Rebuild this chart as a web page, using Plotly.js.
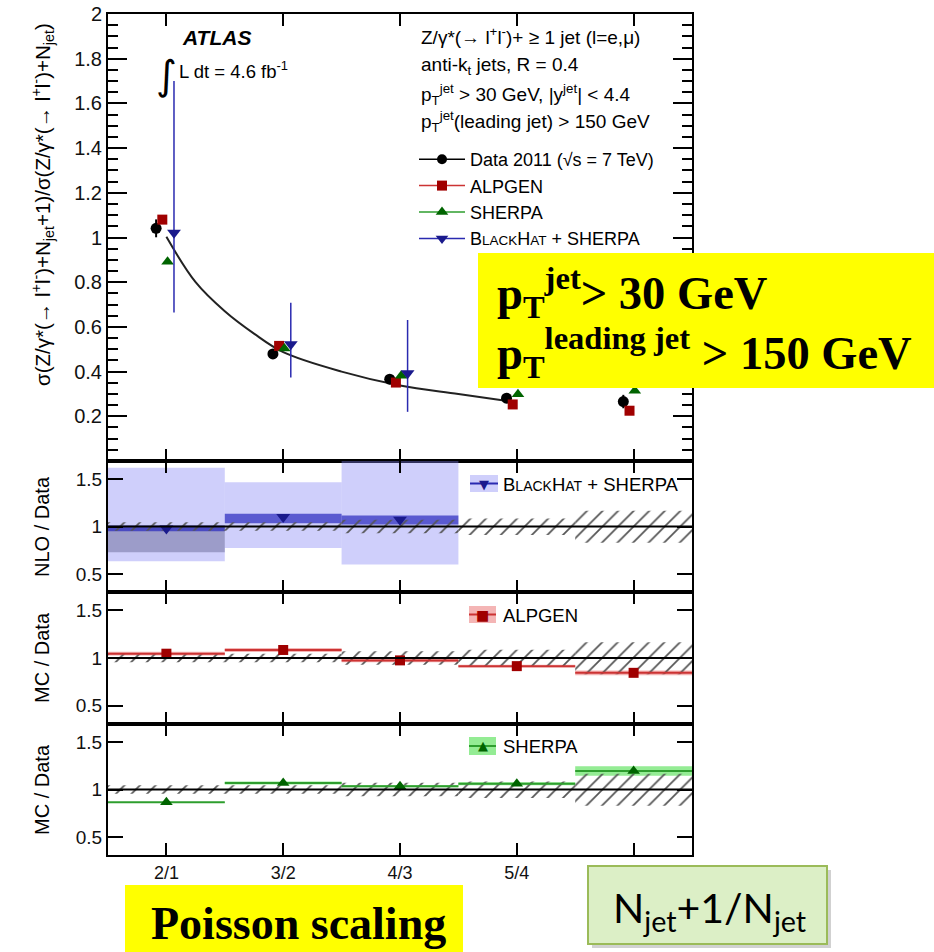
<!DOCTYPE html>
<html><head><meta charset="utf-8">
<script src="https://cdn.plot.ly/plotly-3.0.1.min.js"></script>
<style>html,body{margin:0;padding:0;background:#fff}#chart{width:934px;height:952px}</style>
</head><body><div id="chart"></div>
<script>
// ================= DATA =================
const categories = ['2/1', '3/2', '4/3', '5/4', '6/5'];
const catIndex = [1, 2, 3, 4, 5];

// top panel: sigma(N+1)/sigma(N)
const dataRatio      = [1.041, 0.479, 0.366, 0.281, 0.266];
const dataRatioErr   = [0.040, 0.020, 0.020, 0.020, 0.030];
const alpgenRatio    = [1.080, 0.515, 0.351, 0.253, 0.225];
const sherpaRatio    = [0.891, 0.503, 0.381, 0.299, 0.314];
const blackhatRatio  = [1.021, 0.522, 0.393];
const blackhatRatioLo = [0.664, 0.374, 0.220];
const blackhatRatioHi = [1.700, 0.708, 0.631];

// fitted curve
const fitX = [1.00, 1.25, 1.50, 1.75, 2.00, 2.50, 3.00, 3.50, 3.92];
const fitY = [1.003, 0.800, 0.670, 0.570, 0.487, 0.400, 0.338, 0.300, 0.268];

// data uncertainty band in the ratio panels (relative, around 1)
const dataUncUp   = [0.045, 0.045, 0.070, 0.085, 0.165];
const dataUncDown = [0.045, 0.045, 0.070, 0.090, 0.170];

// BlackHat+SHERPA / Data
const bhOverData = [0.98, 1.10, 1.07];
const bhTotLo  = [0.633, 0.773, 0.600];
const bhTotHi  = [1.620, 1.465, 1.700];
const bhStatLo = [0.950, 1.035, 1.020];
const bhStatHi = [1.010, 1.133, 1.115];
const bhExtraLo = [0.73];
const bhExtraHi = [0.99];

// ALPGEN / Data
const alpgenOverData = [1.045, 1.084, 0.975, 0.915, 0.845];
const alpgenBand     = [0.020, 0.020, 0.020, 0.015, 0.025];

// SHERPA / Data
const sherpaOverData = [0.865, 1.068, 1.035, 1.060, 1.195];
const sherpaBand     = [0.004, 0.016, 0.012, 0.016, 0.050];

// tick labels
const topTickVals = [0.2, 0.4, 0.6, 0.8, 1.0, 1.2, 1.4, 1.6, 1.8, 2.0];
const topTickText = ['0.2', '0.4', '0.6', '0.8', '1', '1.2', '1.4', '1.6', '1.8', '2'];
const ratioTickVals = [0.5, 1, 1.5];
const ratioTickText = ['0.5', '1', '1.5'];

// ================= STYLE / LAYOUT =================
const PL = 108, PR = 692, PT = 14, PB = 855;
const W = PR - PL, H = PB - PT;
const X = px => (px - PL) / W;
const Y = py => (PB - py) / H;
const FONT = 'Liberation Sans, Arial, Helvetica, sans-serif';
const SERIF = 'Liberation Serif, Times New Roman, serif';
const OFF = {data: -0.088, alpgen: -0.035, sherpa: 0.01, blackhat: 0.065};
const C = {
  data: '#000000', alpgen: '#a00000', alpgenLine: '#cc3333', alpgenBand: 'rgba(225,60,60,0.38)',
  sherpa: '#006400', sherpaLine: '#2e9e2e', sherpaBand: 'rgba(60,220,60,0.55)',
  bh: '#1a1a8c', bhLine: '#2a2ab0', bhTot: 'rgba(130,130,245,0.38)', bhStat: 'rgba(40,40,190,0.7)',
  bhExtra: 'rgba(60,60,110,0.35)'
};

const shift = (arr, o) => arr.map(v => v + o);
const diff = (hi, lo) => hi.map((h, i) => h - lo[i]);
const hatchTrace = (xa, ya) => ({
  type: 'bar', x: catIndex, base: dataUncDown.map(d => 1 - d),
  y: dataUncUp.map((u, i) => u + dataUncDown[i]), width: 1,
  xaxis: xa, yaxis: ya, showlegend: false, hoverinfo: 'skip',
  marker: {color: 'rgba(0,0,0,0)', line: {width: 0},
           pattern: {shape: '/', size: 11, solidity: 0.16, fgcolor: '#555', bgcolor: 'rgba(0,0,0,0)'}}
});

const traces = [
  // ---- top panel ----
  {type: 'scatter', mode: 'lines', x: fitX, y: fitY, line: {color: '#222', width: 2, shape: 'spline'},
   xaxis: 'x', yaxis: 'y', showlegend: false, hoverinfo: 'skip'},
  {type: 'scatter', mode: 'markers', x: shift(catIndex, OFF.data), y: dataRatio,
   error_y: {type: 'data', array: dataRatioErr, color: C.data, thickness: 2, width: 0},
   marker: {symbol: 'circle', size: 11, color: C.data}, xaxis: 'x', yaxis: 'y', showlegend: false},
  {type: 'scatter', mode: 'markers', x: shift(catIndex, OFF.alpgen), y: alpgenRatio,
   marker: {symbol: 'square', size: 10, color: C.alpgen}, xaxis: 'x', yaxis: 'y', showlegend: false},
  {type: 'scatter', mode: 'markers', x: shift(catIndex, OFF.sherpa), y: sherpaRatio,
   marker: {symbol: 'triangle-up', size: 11, color: C.sherpa}, xaxis: 'x', yaxis: 'y', showlegend: false},
  {type: 'scatter', mode: 'markers', x: shift(catIndex.slice(0, 3), OFF.blackhat), y: blackhatRatio,
   error_y: {type: 'data', symmetric: false,
             array: blackhatRatioHi.map((h, i) => h - blackhatRatio[i]),
             arrayminus: blackhatRatio.map((v, i) => v - blackhatRatioLo[i]),
             color: C.bhLine, thickness: 1.5, width: 0},
   marker: {symbol: 'triangle-down', size: 12, color: C.bh}, xaxis: 'x', yaxis: 'y', showlegend: false},

  // legend entries (top panel)
  {type: 'scatter', mode: 'lines+markers', x: [null], y: [null], name: 'Data 2011 (√s = 7 TeV)',
   line: {color: '#000', width: 1.5}, marker: {symbol: 'circle', size: 10, color: C.data}, xaxis: 'x', yaxis: 'y'},
  {type: 'scatter', mode: 'lines+markers', x: [null], y: [null], name: 'ALPGEN',
   line: {color: C.alpgenLine, width: 1.5}, marker: {symbol: 'square', size: 10, color: C.alpgen}, xaxis: 'x', yaxis: 'y'},
  {type: 'scatter', mode: 'lines+markers', x: [null], y: [null], name: 'SHERPA',
   line: {color: C.sherpaLine, width: 1.5}, marker: {symbol: 'triangle-up', size: 11, color: C.sherpa}, xaxis: 'x', yaxis: 'y'},
  {type: 'scatter', mode: 'lines+markers', x: [null], y: [null],
   name: 'B<span style="font-size:13.5px">LACK</span>H<span style="font-size:13.5px">AT</span> + SHERPA',
   line: {color: C.bhLine, width: 1.5}, marker: {symbol: 'triangle-down', size: 11, color: C.bh}, xaxis: 'x', yaxis: 'y'},

  // ---- panel 2: NLO / Data ----
  {type: 'bar', x: catIndex.slice(0, 3), base: bhTotLo, y: diff(bhTotHi, bhTotLo), width: 1,
   marker: {color: C.bhTot, line: {width: 0}}, xaxis: 'x2', yaxis: 'y2', showlegend: false, hoverinfo: 'skip'},
  {type: 'bar', x: catIndex.slice(0, 1), base: bhExtraLo, y: diff(bhExtraHi, bhExtraLo), width: 1,
   marker: {color: C.bhExtra, line: {width: 0}}, xaxis: 'x2', yaxis: 'y2', showlegend: false, hoverinfo: 'skip'},
  {type: 'bar', x: catIndex.slice(0, 3), base: bhStatLo, y: diff(bhStatHi, bhStatLo), width: 1,
   marker: {color: C.bhStat, line: {width: 0}}, xaxis: 'x2', yaxis: 'y2', showlegend: false, hoverinfo: 'skip'},
  hatchTrace('x2', 'y2'),
  {type: 'scatter', mode: 'markers', x: catIndex.slice(0, 3), y: bhOverData,
   marker: {symbol: 'triangle-down', size: 12, color: C.bh}, xaxis: 'x2', yaxis: 'y2', showlegend: false},

  // ---- panel 3: ALPGEN / Data ----
  {type: 'bar', x: catIndex, base: alpgenOverData.map((v, i) => v - alpgenBand[i]),
   y: alpgenBand.map(b => 2 * b), width: 1,
   marker: {color: C.alpgenBand, line: {width: 0}}, xaxis: 'x3', yaxis: 'y3', showlegend: false, hoverinfo: 'skip'},
  hatchTrace('x3', 'y3'),
  {type: 'scatter', mode: 'markers', x: catIndex, y: alpgenOverData,
   error_x: {type: 'constant', value: 0.5, color: C.alpgenLine, thickness: 2, width: 0},
   marker: {symbol: 'square', size: 10, color: C.alpgen}, xaxis: 'x3', yaxis: 'y3', showlegend: false},

  // ---- panel 4: SHERPA / Data ----
  {type: 'bar', x: catIndex, base: sherpaOverData.map((v, i) => v - sherpaBand[i]),
   y: sherpaBand.map(b => 2 * b), width: 1,
   marker: {color: C.sherpaBand, line: {width: 0}}, xaxis: 'x4', yaxis: 'y4', showlegend: false, hoverinfo: 'skip'},
  hatchTrace('x4', 'y4'),
  {type: 'scatter', mode: 'markers', x: catIndex, y: sherpaOverData,
   error_x: {type: 'constant', value: 0.5, color: C.sherpaLine, thickness: 2, width: 0},
   marker: {symbol: 'triangle-up', size: 11, color: C.sherpa}, xaxis: 'x4', yaxis: 'y4', showlegend: false}
];

const xBase = (anchor, labels) => ({
  anchor: anchor, range: [0.5, 5.5], tickmode: 'array', tickvals: catIndex, ticktext: categories,
  ticks: 'inside', ticklen: 12, tickwidth: 2, tickcolor: '#000',
  showline: true, linewidth: 2, linecolor: '#000', mirror: 'ticks',
  showgrid: false, zeroline: false, showticklabels: labels,
  tickfont: {family: FONT, size: 18, color: '#111'}, fixedrange: true
});
const yRatio = (domain, anchor) => ({
  anchor: anchor, domain: domain, range: [0.31, 1.69], tickmode: 'array',
  tickvals: ratioTickVals, ticktext: ratioTickText,
  ticks: 'inside', ticklen: 15, tickwidth: 2, tickcolor: '#000',
  showline: true, linewidth: 2, linecolor: '#000', mirror: 'ticks',
  showgrid: false, zeroline: false, tickfont: {family: FONT, size: 19, color: '#111'}, fixedrange: true
});
const unityLine = (xa, ya) => ({type: 'line', xref: xa + ' domain', yref: ya, x0: 0, x1: 1, y0: 1, y1: 1,
  line: {color: '#000', width: 2}, layer: 'above'});
const rectPx = (x0, y0, x1, y1, fill, line) => ({type: 'rect', xref: 'paper', yref: 'paper',
  x0: X(x0), x1: X(x1), y0: Y(y0), y1: Y(y1), fillcolor: fill,
  line: line || {width: 0}, layer: 'above'});
const linePx = (x0, y0, x1, y1, color, w) => ({type: 'line', xref: 'paper', yref: 'paper',
  x0: X(x0), x1: X(x1), y0: Y(y0), y1: Y(y1), line: {color: color, width: w}, layer: 'above'});
const ann = (text, px, py, size, opts) => Object.assign({
  text: text, xref: 'paper', yref: 'paper', x: X(px), y: Y(py), showarrow: false,
  xanchor: 'left', yanchor: 'middle', font: {family: FONT, size: size, color: '#000'}
}, opts || {});

const layout = {
  width: 934, height: 952,
  margin: {l: PL, r: 934 - PR, t: PT, b: 952 - PB, pad: 0},
  paper_bgcolor: '#fff', plot_bgcolor: '#fff',
  font: {family: FONT, color: '#000'},
  barmode: 'overlay',
  xaxis: xBase('y', false), xaxis2: xBase('y2', false), xaxis3: xBase('y3', false), xaxis4: xBase('y4', true),
  yaxis: {
    anchor: 'x', domain: [Y(461), 1], range: [0, 2], tickmode: 'array', tickvals: topTickVals, ticktext: topTickText,
    ticks: 'inside', ticklen: 19, tickwidth: 2, tickcolor: '#000',
    minor: {tickmode: 'linear', tick0: 0, dtick: 0.05, ticks: 'inside', ticklen: 10, tickwidth: 2, tickcolor: '#000', showgrid: false},
    showline: true, linewidth: 2, linecolor: '#000', mirror: 'ticks',
    showgrid: false, zeroline: false, tickfont: {family: FONT, size: 20, color: '#111'}, fixedrange: true
  },
  yaxis2: yRatio([Y(592), Y(461)], 'x2'),
  yaxis3: yRatio([Y(724), Y(592)], 'x3'),
  yaxis4: yRatio([0, Y(724)], 'x4'),
  showlegend: true,
  legend: {x: X(414), y: Y(141), xanchor: 'left', yanchor: 'top', bgcolor: 'rgba(0,0,0,0)',
           font: {family: FONT, size: 18, color: '#000'}, traceorder: 'normal', itemwidth: 46},
  shapes: [
    unityLine('x2', 'y2'), unityLine('x3', 'y3'), unityLine('x4', 'y4'),
    // mini legends in ratio panels
    rectPx(470, 475, 498, 492, C.bhTot), linePx(470, 483.5, 498, 483.5, C.bhLine, 2),
    rectPx(469, 606, 496, 623, C.alpgenBand), linePx(469, 614.5, 496, 614.5, C.alpgenLine, 2),
    rectPx(469, 737, 496, 755, C.sherpaBand), linePx(469, 746, 496, 746, C.sherpaLine, 2),
    // yellow boxes
    rectPx(478, 253, 934, 388, '#ffff00'),
    rectPx(125, 885, 463, 952, '#ffff00'),
    // green box with shadow
    rectPx(592, 870, 831, 948, 'rgba(0,0,0,0.18)'),
    rectPx(588, 866, 827, 944, '#dcefc6', {color: '#9bbb59', width: 2})
  ],
  annotations: [
    // y-axis titles
    ann('σ(Z/γ*(→ l<sup>+</sup>l<sup>-</sup>)+N<sub>jet</sub>+1)/σ(Z/γ*(→ l<sup>+</sup>l<sup>-</sup>)+N<sub>jet</sub>)', 42, 205, 20.5,
        {xanchor: 'center', textangle: -90}),
    ann('NLO / Data', 42, 527, 20, {xanchor: 'center', textangle: -90}),
    ann('MC / Data', 42, 658, 20, {xanchor: 'center', textangle: -90}),
    ann('MC / Data', 42, 790, 20, {xanchor: 'center', textangle: -90}),
    // ATLAS label
    ann('<b><i>ATLAS</i></b>', 180, 37, 21),
    ann('∫', 166, 75, 40, {xanchor: 'center', font: {family: 'DejaVu Sans, sans-serif', size: 40, color: '#000'}}),
    ann('L dt = 4.6 fb<sup>-1</sup>', 177, 70, 18.5),
    // selection text
    ann('Z/γ*(→ l<sup>+</sup>l<sup>-</sup>)+ ≥ 1 jet (l=e,μ)', 419, 36, 19),
    ann('anti-k<sub>t</sub> jets, R = 0.4', 419, 66, 19),
    ann('p<sub>T</sub><sup>jet</sup> > 30 GeV, |y<sup>jet</sup>| < 4.4', 419, 94, 19),
    ann('p<sub>T</sub><sup>jet</sup>(leading jet) > 150 GeV', 419, 122, 19),
    // mini legends
    ann('▼', 484, 484, 13, {xanchor: 'center', font: {family: 'DejaVu Sans, sans-serif', size: 13, color: C.bh}}),
    ann('B<span style="font-size:14px">LACK</span>H<span style="font-size:14px">AT</span> + SHERPA', 501, 484, 18.5),
    ann('■', 482.5, 614.5, 14, {xanchor: 'center', font: {family: 'DejaVu Sans, sans-serif', size: 14, color: C.alpgen}}),
    ann('ALPGEN', 501, 615, 18.5),
    ann('▲', 482.5, 745, 13, {xanchor: 'center', font: {family: 'DejaVu Sans, sans-serif', size: 13, color: C.sherpa}}),
    ann('SHERPA', 501, 746, 18.5),
    // overlay boxes text
    ann('<b>p<sub>T</sub><sup>jet</sup>> 30 GeV</b>', 495, 292, 46.5, {font: {family: SERIF, size: 46.5, color: '#000'}}),
    ann('<b>p<sub>T</sub><sup>leading jet</sup> > 150 GeV</b>', 495, 352, 46.5, {font: {family: SERIF, size: 46.5, color: '#000'}}),
    ann('<b>Poisson scaling</b>', 298, 924, 46, {xanchor: 'center', font: {family: SERIF, size: 46, color: '#000'}}),
    ann('N<sub>jet</sub>+1/N<sub>jet</sub>', 709, 910, 41, {xanchor: 'center', font: {family: 'Lato, Open Sans, sans-serif', size: 41, color: '#000'}})
  ]
};

Plotly.newPlot('chart', traces, layout, {staticPlot: true, displayModeBar: false});
</script>
</body></html>
